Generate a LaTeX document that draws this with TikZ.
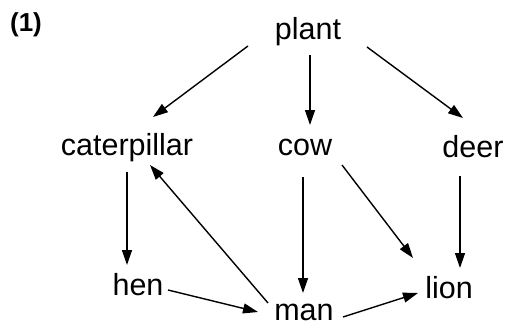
\documentclass[tikz,border=0pt]{standalone}
\usepackage{fontspec}
\setmainfont{Liberation Sans}
\usetikzlibrary{arrows.meta}
\begin{document}
\begin{tikzpicture}[x=1pt,y=-1pt,
  lbl/.style={anchor=base,inner sep=0pt,font=\fontsize{30.5}{36}\selectfont},
  arr/.style={line width=1.4pt,-{Triangle[length=15pt,width=10pt]}}]
\useasboundingbox (0,0) rectangle (509,332);
\node[anchor=base,inner sep=0pt,font=\fontsize{26}{30}\selectfont\bfseries] (num) at (26,31) {(1)};
\node[lbl] (plant) at (308,39) {plant};
\node[lbl] (cat) at (127,155) {caterpillar};
\node[lbl] (cow) at (305,155) {cow};
\node[lbl] (deer) at (473,157) {deer};
\node[lbl] (hen) at (138,295) {hen};
\node[lbl] (man) at (304,320) {man};
\node[lbl] (lion) at (449,298) {lion};
\draw[arr] ([shift={(-60,7)}]plant.base) -- ([shift={(26,-38)}]cat.base);
\draw[arr] ([shift={(2,16)}]plant.base) -- ([shift={(5,-30)}]cow.base);
\draw[arr] ([shift={(59,8)}]plant.base) -- ([shift={(-10,-39)}]deer.base);
\draw[arr] ([shift={(0,17)}]cat.base) -- ([shift={(-11,-30)}]hen.base);
\draw[arr] ([shift={(-2,22)}]cow.base) -- ([shift={(-1,-27)}]man.base);
\draw[arr] ([shift={(37,10)}]cow.base) -- ([shift={(-36,-40)}]lion.base);
\draw[arr] ([shift={(-13,19)}]deer.base) -- ([shift={(11,-30)}]lion.base);
\draw[arr] ([shift={(-36,-17)}]man.base) -- ([shift={(23,10)}]cat.base);
\draw[arr] ([shift={(30,-5)}]hen.base) -- ([shift={(-46,-8)}]man.base);
\draw[arr] ([shift={(39,-3)}]man.base) -- ([shift={(-31,-5)}]lion.base);
\end{tikzpicture}
\end{document}
